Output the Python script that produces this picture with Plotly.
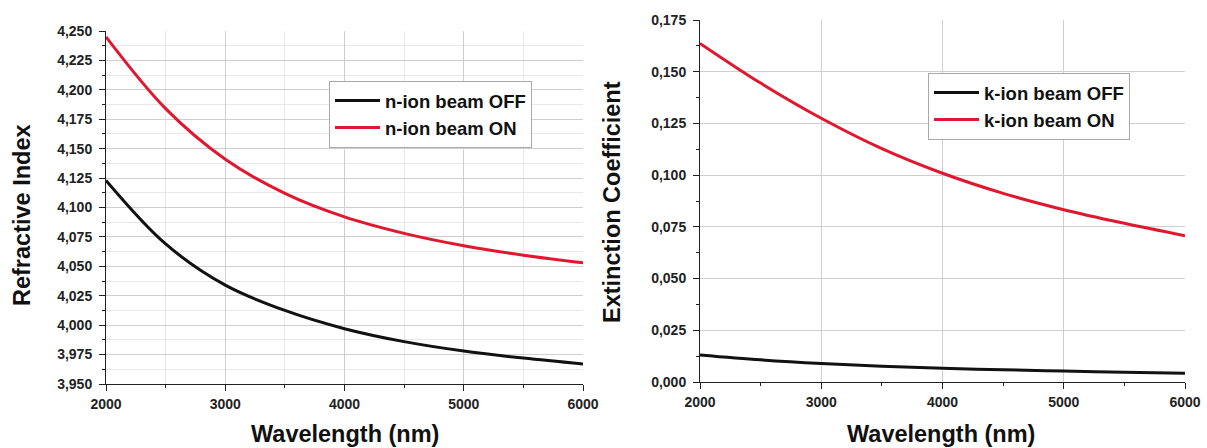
import plotly.graph_objects as go

wavelength = [2000, 2500, 3000, 3500, 4000, 4500, 5000, 5500, 6000]
n_off = [4.123, 4.069, 4.034, 4.0125, 3.997, 3.986, 3.978, 3.972, 3.967]
n_on = [4.245, 4.184, 4.141, 4.112, 4.092, 4.078, 4.0675, 4.0595, 4.053]
k_off = [0.0131, 0.0107, 0.0089, 0.0076, 0.0066, 0.0059, 0.0053, 0.0047, 0.0042]
k_on = [0.1637, 0.1445, 0.1275, 0.1128, 0.1009, 0.0912, 0.0833, 0.0767, 0.0707]

RED = "#e0182f"
BLACK = "#111111"
FONT = "Liberation Sans, Arial, sans-serif"
W, H = 1207, 448

fig = go.Figure()
fig.add_trace(go.Scatter(x=wavelength, y=n_off, mode="lines", name="<b>n-ion beam OFF</b>",
                         line=dict(color=BLACK, width=3, shape="spline", smoothing=1.0),
                         xaxis="x", yaxis="y", legend="legend"))
fig.add_trace(go.Scatter(x=wavelength, y=n_on, mode="lines", name="<b>n-ion beam ON</b>",
                         line=dict(color=RED, width=3, shape="spline", smoothing=1.0),
                         xaxis="x", yaxis="y", legend="legend"))
fig.add_trace(go.Scatter(x=wavelength, y=k_off, mode="lines", name="<b>k-ion beam OFF</b>",
                         line=dict(color=BLACK, width=3, shape="spline", smoothing=1.0),
                         xaxis="x2", yaxis="y2", legend="legend2"))
fig.add_trace(go.Scatter(x=wavelength, y=k_on, mode="lines", name="<b>k-ion beam ON</b>",
                         line=dict(color=RED, width=3, shape="spline", smoothing=1.0),
                         xaxis="x2", yaxis="y2", legend="legend2"))


def px_x(p):
    return p / W


def px_y(p):
    return (H - p) / H


tickfont = dict(family=FONT, size=14, color="#222222", weight="bold")


def xaxis(domain, anchor, minorgrid):
    return dict(domain=domain, anchor=anchor, range=[2000, 6000], dtick=1000, tick0=2000,
                showline=True, linecolor="#222222", linewidth=1, ticks="outside", ticklen=6,
                tickcolor="#222222", showgrid=True, gridcolor="#cfcfcf", gridwidth=1,
                zeroline=False, tickfont=tickfont, automargin=False, ticklabelstandoff=1,
                minor=dict(dtick=500, ticks="outside", ticklen=3, tickcolor="#222222",
                           showgrid=minorgrid, gridcolor="#e8e8e8"))


def yaxis(domain, anchor, rng, dtick, minorgrid):
    return dict(domain=domain, anchor=anchor, range=rng, dtick=dtick, tick0=rng[0],
                tickformat=".3f", showline=True, linecolor="#222222", linewidth=1,
                ticks="outside", ticklen=6, tickcolor="#222222", showgrid=True,
                gridcolor="#cfcfcf", gridwidth=1, zeroline=False, tickfont=tickfont,
                automargin=False, ticklabelstandoff=4,
                minor=dict(dtick=dtick / 2, ticks="outside", ticklen=3, tickcolor="#222222",
                           showgrid=minorgrid, gridcolor="#e8e8e8"))


legend_common = dict(xanchor="left", yanchor="top", bgcolor="white", bordercolor="#aaaaaa",
                     borderwidth=1, font=dict(family=FONT, size=18.5, color="#111111"),
                     tracegroupgap=0, itemwidth=45, entrywidth=154, entrywidthmode="pixels")

fig.update_layout(
    width=W, height=H,
    margin=dict(l=0, r=0, t=0, b=0),
    paper_bgcolor="white", plot_bgcolor="white",
    separators=",.",
    font=dict(family=FONT, color="#111111"),
    xaxis=xaxis([px_x(106), px_x(583)], "y", True),
    yaxis=yaxis([px_y(384), px_y(31)], "x", [3.95, 4.25], 0.025, True),
    xaxis2=xaxis([px_x(700), px_x(1185)], "y2", False),
    yaxis2=yaxis([px_y(382), px_y(20)], "x2", [0.0, 0.175], 0.025, False),
    legend=dict(x=px_x(329), y=px_y(81), **legend_common),
    legend2=dict(x=px_x(928), y=px_y(73), **legend_common),
    showlegend=True,
)

title_font = dict(family=FONT, size=23.5, color="#111111")
annotations = [
    dict(text="<b>Refractive Index</b>", x=px_x(22), y=px_y(215), textangle=-90),
    dict(text="<b>Extinction Coefficient</b>", x=px_x(612), y=px_y(202), textangle=-90),
    dict(text="<b>Wavelength (nm)</b>", x=px_x(345), y=px_y(434), textangle=0),
    dict(text="<b>Wavelength (nm)</b>", x=px_x(941), y=px_y(434), textangle=0),
]
for a in annotations:
    fig.add_annotation(xref="paper", yref="paper", showarrow=False, xanchor="center",
                       yanchor="middle", font=title_font, **a)

fig.write_html("out.html")
